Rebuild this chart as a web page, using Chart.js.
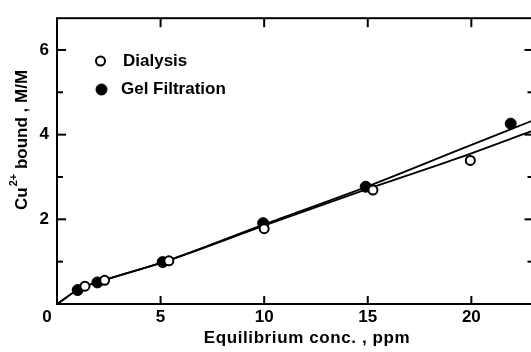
<!DOCTYPE html>
<html>
<head>
<meta charset="utf-8">
<script src="https://cdn.jsdelivr.net/npm/chart.js@4.4.1/dist/chart.umd.min.js"></script>
<style>
  html, body { margin: 0; padding: 0; background: #fff; overflow: hidden; }
  #wrap { width: 540px; height: 352px; }
</style>
</head>
<body>
<div id="wrap"><canvas id="bindChart" width="540" height="352"></canvas></div>
<script>
// measured points
const dialysisX = [1.35, 2.3, 5.4, 10.0, 15.25, 19.95];
const dialysisY = [0.42, 0.56, 1.02, 1.78, 2.69, 3.39];
const gelX = [1.0, 1.95, 5.1, 9.95, 14.9, 21.9];
const gelY = [0.33, 0.51, 0.99, 1.91, 2.77, 4.26];

// hand-drawn curves
const gelCurveX = [0, 1.1, 2.2, 5.2, 10, 15, 19.4, 23];
const gelCurveY = [0, 0.36, 0.55, 1.0, 1.88, 2.78, 3.64, 4.34];
const dialCurveX = [0, 1.1, 2.2, 5.2, 10, 15, 19.5, 23];
const dialCurveY = [0, 0.36, 0.55, 1.0, 1.85, 2.72, 3.47, 4.1];

const xTickMarks = [5, 10, 15, 20];
const yTickMarks = [1, 2, 3, 4, 5, 6];
const yLabelled = [2, 4, 6];

const xTitle = 'Equilibrium conc. , ppm';
const yTitleParts = ['Cu', '2+', ' bound , M/M'];

const FONT = 'bold 17px "Liberation Sans", Arial, sans-serif';

const toPoints = (xs, ys) => xs.map((x, i) => ({ x: x, y: ys[i] }));

const framePlugin = {
    id: 'frame',
    afterDraw(chart) {
        const { ctx, chartArea, scales } = chart;
        const { left, right, top, bottom } = chartArea;
        const line = (x1, y1, x2, y2) => {
            ctx.beginPath();
            ctx.moveTo(x1, y1);
            ctx.lineTo(x2, y2);
            ctx.stroke();
        };
        ctx.save();
        ctx.strokeStyle = '#000';
        ctx.lineWidth = 2;
        ctx.strokeRect(left, top, right - left, bottom - top);

        xTickMarks.forEach(v => {
            const px = scales.x.getPixelForValue(v);
            line(px, bottom, px, bottom - 8);
            line(px, top, px, top + 9);
        });
        yTickMarks.forEach(v => {
            const py = scales.y.getPixelForValue(v);
            const len = yLabelled.includes(v) ? 9 : 6;
            line(left, py, left + len, py);
            line(right, py, right - len, py);
        });

        ctx.fillStyle = '#000';
        ctx.font = FONT;
        ctx.textBaseline = 'middle';

        // shared origin label
        ctx.textAlign = 'center';
        ctx.fillText('0', left - 10, bottom + 13);

        // x title
        ctx.save();
        ctx.letterSpacing = '0.6px';
        ctx.fillText(xTitle, 307, 338);
        ctx.restore();

        // y title with superscript
        ctx.save();
        ctx.translate(22, 210);
        ctx.rotate(-Math.PI / 2);
        ctx.textAlign = 'left';
        let pos = 0;
        ctx.font = FONT;
        ctx.fillText(yTitleParts[0], pos, 0);
        pos += ctx.measureText(yTitleParts[0]).width + 1;
        ctx.font = 'bold 11px "Liberation Sans", Arial, sans-serif';
        ctx.fillText(yTitleParts[1], pos, -8);
        pos += ctx.measureText(yTitleParts[1]).width;
        ctx.font = FONT;
        ctx.fillText(yTitleParts[2], pos, 0);
        ctx.restore();

        // legend from the point datasets
        const legendRows = [
            { ds: chart.data.datasets[0], cx: 100.5, cy: 61, tx: 123 },
            { ds: chart.data.datasets[1], cx: 101.5, cy: 89.5, tx: 121 }
        ];
        ctx.textAlign = 'left';
        legendRows.forEach(r => {
            ctx.beginPath();
            ctx.arc(r.cx, r.cy, r.ds.pointRadius, 0, Math.PI * 2);
            ctx.fillStyle = r.ds.pointBackgroundColor;
            ctx.fill();
            ctx.lineWidth = r.ds.pointBorderWidth;
            ctx.strokeStyle = '#000';
            ctx.stroke();
            ctx.fillStyle = '#000';
            ctx.fillText(r.ds.label, r.tx, r.cy);
        });
        ctx.restore();
    }
};

new Chart(document.getElementById('bindChart'), {
    type: 'scatter',
    data: {
        datasets: [{
            label: 'Dialysis',
            data: toPoints(dialysisX, dialysisY),
            pointRadius: 4.5,
            pointBorderWidth: 2,
            pointBackgroundColor: '#fff',
            pointBorderColor: '#000',
            order: 1
        }, {
            label: 'Gel Filtration',
            data: toPoints(gelX, gelY),
            pointRadius: 5.5,
            pointBorderWidth: 1,
            pointBackgroundColor: '#000',
            pointBorderColor: '#000',
            order: 1
        }, {
            type: 'line',
            label: 'gel fit',
            data: toPoints(gelCurveX, gelCurveY),
            borderColor: '#000',
            borderWidth: 1.8,
            pointRadius: 0,
            cubicInterpolationMode: 'monotone',
            fill: false,
            order: 2
        }, {
            type: 'line',
            label: 'dialysis fit',
            data: toPoints(dialCurveX, dialCurveY),
            borderColor: '#000',
            borderWidth: 1.8,
            pointRadius: 0,
            cubicInterpolationMode: 'monotone',
            fill: false,
            order: 2
        }]
    },
    options: {
        responsive: false,
        animation: false,
        events: [],
        layout: { padding: { top: 14, right: 5, left: 0, bottom: 0 } },
        plugins: {
            legend: { display: false },
            tooltip: { enabled: false }
        },
        scales: {
            x: {
                type: 'linear',
                min: 0,
                max: 23,
                grid: { display: false, drawTicks: false, tickLength: 0 },
                border: { display: false },
                afterFit: s => { s.height = 48; },
                ticks: {
                    stepSize: 5,
                    padding: 3,
                    color: '#000',
                    font: { family: '"Liberation Sans", Arial, sans-serif', size: 17, weight: 'bold' },
                    maxRotation: 0,
                    callback: v => (xTickMarks.includes(v) ? v : '')
                }
            },
            y: {
                type: 'linear',
                min: 0,
                max: 6.75,
                grid: { display: false, drawTicks: false, tickLength: 0 },
                border: { display: false },
                afterFit: s => { s.width = 57; },
                ticks: {
                    stepSize: 1,
                    padding: 8,
                    color: '#000',
                    font: { family: '"Liberation Sans", Arial, sans-serif', size: 17, weight: 'bold' },
                    callback: v => (yLabelled.includes(v) ? v : '')
                }
            }
        }
    },
    plugins: [framePlugin]
});
</script>
</body>
</html>
